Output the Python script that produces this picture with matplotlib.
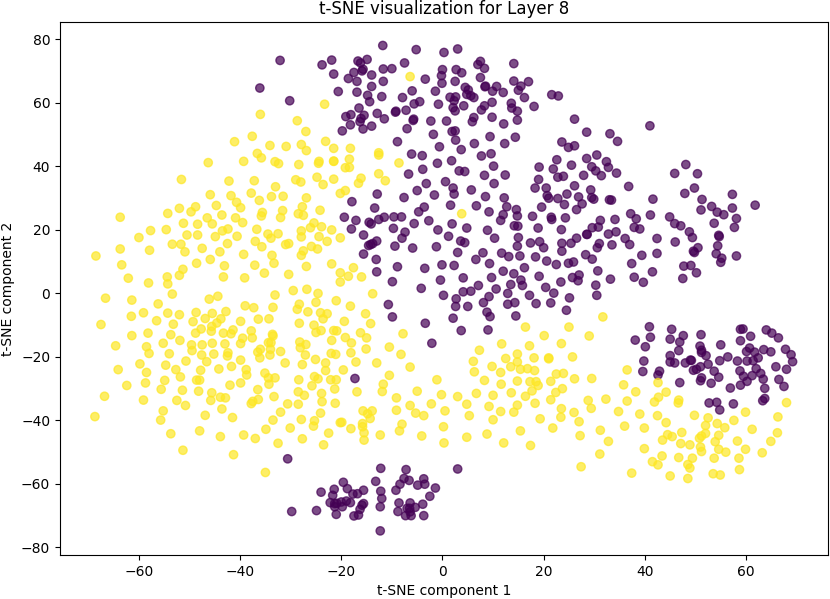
import matplotlib
matplotlib.use('Agg')
import matplotlib.pyplot as plt
import numpy as np

# t-SNE coordinates, one list per class
class_0_points = [
    (-36.1,64.6),(-32.1,73.3),(-30.2,60.6),(-30.6,-52.2),(-17.3,-26.9),
    (-11.8,78.0),(-5.2,76.7),(0.3,75.8),(3.0,76.9),(-21.9,73.4),(-23.8,71.9),(-16.7,73.1),(-16.2,72.5),(-14.9,73.6),
    (-7.5,72.5),(7.5,73.0),(7.0,72.0),(14.1,72.3),(-15.7,70.5),(-15.9,70.0),(-17.5,69.5),(-11.7,70.6),(-10.0,70.7),
    (0.0,70.4),(2.7,70.4),(3.8,69.4),(8.3,70.8),(-21.5,69.0),(-14.0,68.7),(-0.2,68.5),(-18.6,67.6),(-16.9,66.7),
    (-11.7,66.7),(-3.4,67.4),(2.5,66.7),(7.5,67.9),(14.1,66.8),(17.0,66.6),(-0.1,66.1),(-14.0,65.1),(8.4,65.0),
    (8.5,65.2),(10.7,65.1),(15.5,65.2),(15.0,63.9),(4.5,64.8),(-20.6,63.5),(-16.9,63.3),(-6.0,63.7),(-1.4,63.6),
    (5.1,64.0),(9.9,63.6),(12.0,63.2),(4.8,62.6),(5.6,62.2),(6.2,61.6),(-14.8,62.3),(-12.0,61.9),(-7.9,61.6),
    (1.5,61.7),(2.6,61.8),(16.2,61.6),(21.6,62.5),(22.9,62.1),(-14.4,60.3),(-4.5,60.3),(-5.6,59.6),(-0.8,59.5),
    (2.3,60.6),(9.8,60.1),(13.6,59.8),(4.2,59.0),(8.3,59.0),(18.1,58.8),(2.1,58.4),(-16.5,58.3),(13.7,58.3),
    (7.7,57.7),(2.5,57.4),(-9.2,57.3),(-9.3,57.0),(-7.2,57.6),(14.8,57.3),(-12.9,56.6),(-19.1,55.6),(-18.1,56.2),
    (-15.5,56.0),(-11.5,54.9),(-16.1,55.0),(-5.7,54.8),(-5.8,54.4),(-2.3,54.2),(0.8,54.2),(6.2,55.3),(5.9,54.0),
    (9.8,55.4),(14.8,54.5),(26.1,54.8),(-16.3,54.0),(-18.2,53.0),(-14.0,52.6),(12.1,53.3),(-19.8,51.1),(-15.7,51.7),
    (-7.0,51.8),(1.9,50.9),(2.5,51.1),(-1.8,50.0),(9.4,49.3),(14.4,49.1),(2.6,48.2),(-8.9,47.7),(6.3,47.1),
    (12.3,47.1),(23.6,47.6),(24.9,45.9),(26.1,46.4),(-0.6,46.1),(3.7,45.2),(-6.1,43.8),(-4.0,43.3),(7.7,43.2),
    (9.6,43.9),(22.6,42.0),(-1.0,40.9),(1.8,41.7),(25.5,40.3),(10.1,40.0),(19.1,39.7),(21.9,39.1),(-3.9,39.0),
    (3.3,38.5),(4.4,38.3),(-6.7,37.5),(8.3,37.1),(12.4,37.2),(22.8,36.5),(23.9,36.8),(19.0,35.8),(0.6,35.1),
    (-3.2,34.5),(10.2,34.5),(26.1,33.8),(2.1,33.1),(-5.0,32.3),(5.7,32.5),(18.3,33.1),(20.5,33.1),(-12.9,31.2),
    (-1.6,30.9),(2.3,31.2),(8.5,30.4),(20.7,30.7),(21.0,29.9),(12.2,30.0),(22.8,29.8),(24.6,31.2),(-7.6,30.1),
    (-17.9,28.8),(24.1,27.9),(26.9,30.3),(1.6,27.7),(6.7,27.5),(12.7,27.2),(19.6,27.1),(-3.6,27.1),(-13.4,26.8),
    (-4.7,25.6),(9.2,25.6),(14.6,26.3),(26.5,26.3),(-19.4,23.9),(-12.6,23.2),(-11.5,23.9),(-9.6,24.0),(-8.1,24.0),
    (-17.1,22.9),(-14.5,22.3),(-14.1,21.8),(-2.7,22.8),(12.0,24.7),(11.5,22.9),(14.8,24.3),(17.8,24.2),(21.5,23.9),
    (21.6,23.2),(24.3,23.7),(-5.6,21.9),(1.9,21.8),(-18.0,20.2),(-9.7,20.4),(-0.9,19.9),(4.8,20.5),(8.9,19.8),
    (14.2,21.2),(14.9,21.1),(18.9,20.5),(23.5,20.0),(-7.4,19.2),(-15.6,18.3),
    (-8.0,17.3),(-13.0,16.4),(-14.2,15.3),(-14.6,15.0),(-13.8,15.6),(-9.4,14.8),(-5.9,14.2),(-1.2,14.6),(1.2,17.9),
    (3.6,16.4),(4.4,15.9),(3.0,12.8),(10.3,17.3),(15.0,17.5),(14.8,14.8),(17.4,15.8),(19.2,16.2),(20.0,14.3),
    (23.6,15.7),(25.4,15.7),(26.5,17.3),(28.6,18.5),(23.6,13.2),(31.0,15.6),(30.6,14.3),(-15.6,12.3),(-13.1,10.6),
    (8.0,12.7),(6.6,10.6),(11.7,12.6),(13.1,11.5),(15.3,11.7),(18.4,11.4),(20.6,10.1),(22.5,9.0),(24.9,9.4),
    (25.9,9.8),(28.3,12.1),(29.6,10.7),(9.3,9.3),(-8.9,8.3),(-3.5,7.8),(-0.1,8.9),(2.3,8.7),(16.2,8.0),
    (12.0,6.9),(-13.0,6.7),(14.1,6.1),(30.7,7.0),(4.1,4.8),(9.7,4.9),(19.1,5.3),(25.7,4.9),(27.0,5.7),
    (26.8,3.9),(-9.9,3.6),(-0.4,4.1),(15.5,4.1),(23.4,3.5),(33.2,4.4),(13.5,2.7),(15.8,2.4),(7.1,2.4),
    (30.3,2.5),(-4.2,1.5),(10.6,1.3),(20.4,1.8),(4.1,0.4),(5.6,0.6),(12.9,-0.1),(22.0,0.0),(0.2,-0.7),
    (9.2,-1.1),(17.2,-0.7),(30.5,-0.7),(2.7,-1.8),(25.1,-1.5),(8.1,-3.0),(12.9,-3.5),(14.3,-3.0),(18.5,-3.3),
    (21.4,-3.1),(-10.7,-3.6),(2.6,-4.2),(5.0,-4.2),(24.5,-5.4),(8.8,-6.0),(9.4,-7.4),(14.5,-7.2),(-9.9,-7.5),
    (2.1,-7.9),(-3.4,-9.5),(3.7,-11.8),(9.0,-11.6),(-2.1,-15.8),
    (41.0,52.7),(28.5,50.7),(33.1,50.2),(34.6,47.8),(30.5,43.5),(28.5,42.4),(32.4,41.4),(29.5,39.8),(32.8,39.6),
    (30.3,38.5),(31.4,37.0),(34.4,37.8),(27.9,37.1),(45.9,37.7),(48.1,40.5),(50.4,37.6),(36.8,33.6),(49.8,33.1),
    (47.9,31.4),(57.3,31.1),(29.3,32.5),(61.8,27.7),(29.5,30.1),(29.9,29.6),(33.0,29.4),(33.4,29.3),(41.6,29.6),
    (51.3,29.5),(27.6,28.1),(53.2,27.3),(57.3,26.8),(51.1,26.2),(54.3,25.5),(37.2,25.0),(41.1,24.6),(55.6,24.7),
    (44.9,24.0),(38.3,23.4),(58.1,23.5),(31.2,22.9),(34.1,23.2),(45.9,21.9),(47.1,21.2),(53.7,22.0),(37.9,20.7),
    (39.0,20.2),(29.6,20.6),(30.8,20.8),(57.7,20.7),(34.3,19.3),(32.8,18.6),(28.5,18.5),(48.8,19.3),(49.4,17.5),
    (54.6,18.2),(54.7,17.8),(36.1,17.2),(42.4,17.2),(46.0,16.1),(33.5,15.2),(37.0,15.3),(50.5,14.3),(54.4,14.9),
    (49.6,13.2),(49.8,12.8),(42.4,12.5),(39.4,11.9),(54.1,12.4),(55.2,11.0),(58.1,11.7),(55.0,9.7),(37.4,9.3),
    (47.7,8.5),(49.1,8.7),(41.5,6.7),(50.2,6.4),(37.9,5.0),(47.5,4.6),(39.7,3.4),
    (40.9,-10.6),(45.3,-11.4),(58.9,-11.4),(59.4,-11.3),(64.0,-11.6),(65.1,-12.6),(66.4,-14.1),(38.1,-14.8),(41.1,-13.9),
    (45.0,-14.5),(47.6,-13.4),(51.1,-13.1),(60.9,-13.6),(58.9,-15.0),(46.9,-15.4),(40.1,-16.9),(55.0,-16.3),(50.9,-16.7),
    (46.7,-18.1),(51.2,-18.0),(51.2,-18.7),(60.7,-17.3),(60.1,-18.4),(63.5,-17.8),(64.9,-18.5),(67.8,-17.7),(61.7,-18.6),
    (68.9,-19.4),(52.1,-19.7),(56.4,-20.1),(45.0,-19.7),(62.4,-20.4),(39.8,-21.4),(45.0,-21.7),(45.9,-22.0),(48.0,-22.0),
    (49.0,-21.1),(49.2,-21.2),(54.8,-21.3),(58.3,-21.4),(60.2,-21.4),(61.4,-21.3),(69.2,-21.6),(52.5,-22.4),(51.0,-23.2),
    (65.9,-23.2),(62.0,-23.8),(68.0,-24.0),(39.6,-24.7),(42.9,-24.6),(42.6,-25.8),(49.6,-24.3),(50.2,-24.0),(53.7,-24.6),
    (58.8,-24.5),(62.9,-25.3),(51.2,-26.7),(51.0,-27.6),(54.6,-26.5),(59.5,-26.2),(61.2,-26.0),(60.2,-27.8),(63.4,-27.1),
    (66.5,-27.2),(46.9,-28.2),(53.1,-28.4),(58.9,-29.0),(67.5,-29.4),(56.9,-29.9),(63.7,-30.0),(63.7,-33.2),(63.3,-33.9),
    (52.7,-34.6),(54.2,-34.4),(57.5,-34.9),(54.8,-36.8),
    (-12.2,-55.2),(3.0,-55.4),(-7.2,-55.6),(-7.6,-58.4),(-6.6,-59.0),(-3.7,-58.5),(-13.2,-59.3),(-19.6,-59.6),(-8.4,-60.2),
    (-4.9,-60.5),(-3.5,-60.2),(-18.8,-61.6),(-1.4,-61.4),(-9.2,-62.1),(-15.6,-62.1),(-12.2,-62.4),(-21.4,-61.8),(-16.8,-63.2),
    (-17.7,-63.3),(-21.7,-63.7),(-2.5,-64.0),(-12.0,-64.7),(-18.2,-66.0),(-19.0,-65.5),(-20.0,-65.8),(-21.3,-66.3),(-20.9,-66.2),
    (-22.2,-66.0),(-15.6,-66.3),(-15.9,-66.8),(-8.6,-66.1),(-6.4,-66.1),(-3.9,-66.5),(-12.3,-67.3),(-21.3,-67.3),(-19.8,-67.3),
    (-5.4,-67.5),(-6.5,-67.8),(-7.0,-67.8),(-16.3,-68.1),(-8.8,-68.8),(-6.4,-68.9),(-21.0,-69.7),(-17.5,-70.2),(-16.6,-69.9),
    (-7.3,-70.1),(-6.2,-70.1),(-3.7,-70.1),(-12.3,-74.9),(-29.8,-68.8),(-24.9,-68.5),(-24.0,-62.7),
]

class_1_points = [
    (-23.3,59.5),(-36.0,56.3),(-28.7,54.3),(-27.0,50.9),(-37.6,49.4),(-41.1,47.7),(-23.1,47.8),(-34.1,46.5),(-30.9,46.2),
    (-27.9,46.8),(-26.9,44.9),(-21.5,45.6),(-36.6,44.0),(-35.8,42.6),(-39.3,41.5),(-46.3,41.1),(-33.1,41.4),(-32.4,40.8),
    (-28.4,40.5),(-24.4,41.5),(-24.5,40.9),(-21.5,41.6),(-21.5,41.5),(-51.6,35.8),(-42.2,35.3),(-37.2,35.4),(-29.0,35.7),
    (-28.0,35.0),(-24.8,36.5),(-21.5,35.9),(-23.6,34.2),(-33.0,33.5),(-45.9,31.0),(-41.8,30.7),(-37.8,31.5),(-33.8,30.4),
    (-31.5,30.5),(-26.9,30.0),(-20.2,31.4),(-36.2,29.2),(-40.7,28.6),(-44.7,27.6),(-39.9,26.9),(-48.8,27.2),(-52.0,26.7),
    (-49.7,25.6),(-54.3,25.1),(-27.7,27.2),(-31.6,26.0),(-24.2,26.1),(-35.6,25.4),(-35.8,24.3),(-28.5,25.0),(-27.5,24.5),
    (-32.0,23.8),(-43.6,24.6),(-40.9,23.7),(-46.5,23.7),(-63.7,23.9),(-39.5,22.2),(-51.2,22.0),(-48.4,21.7),(-45.5,21.8),
    (-25.4,22.1),(-26.1,20.6),(-23.9,20.9),(-57.7,19.7),(-54.6,20.0),(-42.4,20.2),(-43.5,19.6),(-36.7,20.1),(-27.9,19.6),
    (-21.9,19.9),(-34.5,18.6),(-32.5,18.7),(-33.9,17.3),(-27.9,17.7),(-24.4,17.8),(-20.2,17.4),(-60.0,17.5),(-50.5,18.3),
    (-48.4,18.3),(-44.9,17.8),(-40.6,17.9),(-37.0,16.3),(-22.8,16.3),(-53.4,15.4),(-51.7,15.4),(-42.5,15.6),(-35.7,14.6),
    (-31.0,15.3),(-30.4,15.6),(-25.9,14.7),(-24.7,13.9),(-63.7,13.9),(-57.9,13.5),(-47.5,14.1),(-50.9,13.0),(-44.0,13.0),
    (-27.5,13.3),(-39.3,12.2),(-33.7,11.9),(-27.9,11.9),(-68.5,11.7),(-45.9,10.6),(-63.4,8.9),(-48.6,9.4),(-43.1,8.6),
    (-37.1,8.8),(-33.3,9.4),(-26.9,8.4),(-21.9,9.2),(-51.3,7.5),(-52.0,5.6),(-54.4,5.1),(-62.1,4.7),(-58.1,3.2),
    (-54.3,2.9),(-43.3,5.1),(-39.1,4.8),(-35.2,6.3),(-30.4,5.9),(-20.2,6.4),(-20.2,3.5),
    (-29.5,0.8),(-26.8,1.2),(-24.6,-0.1),(-21.0,-2.4),(-53.4,-0.3),(-66.6,-1.6),(-61.4,-2.2),(-46.1,-1.9),(-44.4,-1.0),
    (-33.1,-0.6),(-56.2,-3.4),(-25.0,-2.9),(-28.3,-3.5),(-28.7,-5.1),(-39.0,-4.0),(-37.3,-4.6),(-33.5,-4.5),(-26.6,-5.9),
    (-24.1,-6.2),(-22.8,-6.5),(-23.6,-8.1),(-59.1,-6.2),(-54.3,-6.3),(-52.0,-6.8),(-48.7,-6.1),(-45.5,-6.4),(-42.8,-5.8),
    (-61.5,-7.3),(-46.9,-8.0),(-43.8,-8.1),(-36.4,-8.2),(-34.3,-8.1),(-56.5,-8.7),(-49.3,-9.0),(-44.6,-9.4),(-39.9,-8.9),
    (-28.3,-9.5),(-67.5,-9.9),(-53.2,-9.8),(-45.6,-10.5),(-25.4,-10.1),(-47.7,-11.3),(-41.4,-11.6),(-45.7,-12.0),(-37.8,-11.9),
    (-24.0,-11.8),(-25.0,-12.4),(-21.5,-11.8),(-20.9,-11.9),(-48.8,-12.6),(-43.3,-12.6),(-41.8,-12.8),(-61.4,-13.4),(-58.2,-12.6),
    (-53.7,-13.1),(-33.6,-13.0),(-33.5,-13.5),(-39.5,-14.2),(-37.6,-14.1),(-51.9,-14.9),(-21.9,-14.9),(-55.2,-15.8),(-49.6,-16.3),
    (-47.5,-16.3),(-45.5,-15.8),(-43.0,-16.0),(-39.9,-15.9),(-33.9,-15.6),(-34.4,-15.6),(-28.2,-15.4),(-27.0,-16.2),(-64.6,-16.6),
    (-58.5,-16.9),(-28.1,-17.2),(-49.5,-18.1),(-58.0,-19.0),(-36.0,-17.7),(-36.5,-18.6),(-34.0,-17.7),(-32.0,-18.4),(-54.0,-19.1),
    (-42.4,-18.8),(-45.2,-19.2),(-47.6,-19.5),(-42.5,-19.8),(-34.1,-19.5),(-27.1,-19.5),(-22.0,-19.0),(-21.1,-19.3),(-36.1,-20.4),
    (-50.7,-21.4),(-46.6,-21.6),(-39.9,-21.1),(-25.1,-20.9),(-59.8,-22.3),(-54.7,-22.7),(-31.1,-22.0),(-27.7,-22.5),(-23.1,-22.0),
    (-41.7,-23.1),(-64.1,-24.1),(-52.7,-24.1),(-44.2,-23.9),(-47.8,-24.3),(-38.8,-24.1),(-23.1,-24.4),(-58.5,-25.0),(-38.7,-25.8),
    (-35.1,-25.2),(-51.8,-26.4),(-34.4,-26.7),(-33.1,-26.7),(-25.3,-26.3),(-24.6,-27.0),(-48.6,-27.4),(-48.0,-27.4),(-54.9,-27.5),
    (-28.4,-27.3),(-22.1,-27.3),(-21.0,-27.3),(-58.7,-28.3),(-39.9,-28.3),(-34.3,-28.7),(-62.4,-29.1),(-42.0,-29.0),(-25.8,-29.2),
    (-55.6,-30.3),(-51.4,-30.6),(-48.2,-30.9),(-36.5,-30.4),(-21.3,-30.2),(-45.6,-31.4),(-28.5,-31.1),(-27.3,-32.2),(-23.9,-31.6),
    (-66.8,-32.5),(-43.9,-32.8),(-42.9,-33.0),(-33.3,-32.6),(-59.1,-33.7),(-52.5,-33.8),(-45.8,-33.8),(-36.4,-33.5),(-37.5,-34.1),
    (-37.8,-34.8),(-50.8,-35.4),(-30.6,-34.9),(-28.5,-35.0),(-23.8,-34.2),(-21.2,-34.7),(-43.6,-36.5),(-55.2,-37.1),(-32.0,-37.5),
    (-24.1,-37.8),(-68.7,-38.9),(-46.9,-38.5),(-41.5,-39.2),(-55.7,-40.0),(-33.5,-40.0),(-27.9,-39.8),(-25.3,-40.2),(-20.2,-40.8),
    (-25.5,-41.9),(-34.9,-42.9),(-30.1,-42.5),(-48.0,-43.4),(-53.7,-44.3),(-22.5,-44.1),(-43.9,-45.2),(-39.3,-44.7),(-37.0,-45.8),
    (-27.7,-45.9),(-32.5,-47.3),(-23.5,-47.8),(-51.3,-49.5),(-41.3,-50.9),(-35.0,-56.5),
    (-6.4,68.2),(-18.2,45.6),(-12.6,44.2),(-12.6,43.5),(-18.4,42.2),(-8.6,41.0),(-19.2,39.5),(-18.4,39.6),(-12.6,37.6),
    (-16.1,36.2),(-16.6,34.6),(-11.3,35.4),(-19.2,32.3),(3.8,25.0),
    (31.7,-7.5),(16.4,-10.7),(25.0,-10.7),(20.1,-13.4),(29.0,-13.5),(11.7,-16.0),(17.2,-16.6),(23.5,-15.9),(7.3,-18.0),
    (14.8,-19.2),(25.7,-20.1),(12.5,-20.6),(18.1,-20.4),(21.0,-20.4),(21.0,-20.7),
    (-17.6,8.0),(-18.6,5.3),(-16.0,5.1),(-13.8,-0.2),(-18.2,-4.1),(-15.2,-6.5),(-14.2,-9.6),(-19.4,-8.9),
    (-16.2,-12.5),(-15.0,-14.1),(-19.2,-14.0),(-7.8,-12.8),(-18.0,-15.7),(-15.1,-17.6),(-10.5,-17.0),(-18.1,-18.8),(-8.2,-19.3),
    (-17.1,-21.7),(-13.0,-22.0),(-6.4,-23.3),(-19.6,-24.2),(-10.5,-25.9),(-1.1,-27.3),(-11.7,-28.7),(-16.9,-31.1),(-11.9,-31.0),
    (-5.0,-30.9),(-9.1,-33.0),(-0.2,-32.0),(3.0,-32.6),(6.7,-31.6),(-6.4,-35.4),(-9.1,-36.9),(-2.2,-34.9),(4.8,-35.0),
    (-5.3,-37.8),(-3.7,-38.6),(0.5,-37.1),(5.3,-38.6),(-15.7,-37.1),(-14.8,-38.0),(-13.9,-37.1),(-14.3,-39.5),(-19.9,-40.7),
    (-15.8,-41.1),(-15.8,-42.1),(-18.1,-42.7),(-8.0,-41.3),(-8.5,-43.4),(0.2,-42.1),(-15.5,-44.0),(-12.3,-44.7),(-4.1,-45.0),
    (-15.5,-46.3),(0.3,-47.2),(4.8,-45.4),(8.8,-44.4),(12.1,-47.2),(17.4,-48.0),(15.4,-43.4),(21.8,-42.5),(27.2,-44.9),
    (27.0,-40.5),(31.2,-43.2),(31.1,-50.7),(27.4,-54.7),
    (6.1,-21.5),(9.8,-23.1),(13.5,-23.2),(14.8,-21.7),(15.4,-24.0),(16.8,-23.8),(18.2,-24.4),(6.3,-24.8),(11.5,-25.0),
    (22.5,-25.5),(23.9,-25.3),(26.1,-27.0),(29.5,-26.9),(8.3,-27.5),(11.6,-28.7),(14.8,-27.7),(17.3,-27.9),(18.5,-27.9),
    (18.9,-29.1),(21.4,-27.8),(13.6,-31.4),(17.7,-30.8),(23.7,-30.1),(22.4,-31.3),(10.0,-32.2),(16.4,-32.5),(21.4,-33.6),
    (14.8,-35.3),(18.3,-34.7),(28.8,-33.8),(9.2,-35.7),(29.4,-36.3),(11.5,-37.3),(14.1,-37.5),(23.5,-36.4),(26.0,-37.6),
    (23.4,-39.1),(10.0,-39.9),(19.3,-39.6),
    (36.5,-24.2),(42.6,-28.2),(35.8,-28.9),(38.2,-31.1),(44.2,-31.2),(42.7,-32.8),(41.9,-34.3),(32.3,-33.4),(36.5,-34.0),
    (46.7,-33.7),(46.6,-34.6),(34.8,-37.3),(68.0,-34.5),(59.9,-37.5),(39.0,-38.1),(42.5,-38.6),(49.8,-38.5),(52.5,-39.3),
    (66.3,-39.0),(57.6,-40.1),(44.2,-40.8),(54.3,-41.1),(52.0,-41.7),(36.0,-41.9),(39.9,-42.5),(55.8,-42.4),(61.2,-42.9),
    (66.2,-44.0),(47.3,-43.9),(52.0,-44.2),(51.2,-45.0),(54.6,-44.8),(44.5,-44.6),(45.4,-45.2),(50.8,-45.7),(43.5,-46.3),
    (32.8,-46.7),(53.9,-46.8),(58.3,-46.6),(64.9,-46.7),(47.1,-47.4),(48.9,-47.8),(51.0,-48.5),(39.9,-49.0),(54.6,-49.2),
    (59.9,-49.2),(51.2,-49.9),(56.0,-50.1),(63.2,-50.3),(43.4,-51.3),(46.7,-51.8),(49.4,-52.0),(53.7,-52.0),(58.6,-52.0),
    (41.5,-53.1),(42.6,-54.1),(48.5,-54.0),(48.9,-55.1),(58.7,-55.6),(37.4,-56.7),(53.5,-56.9),(54.9,-57.3),(45.0,-57.6),
    (48.5,-58.4),
]

points = np.array(class_0_points + class_1_points)
labels = np.array([0] * len(class_0_points) + [1] * len(class_1_points))

fig = plt.figure(figsize=(8.3, 5.99), dpi=100)
ax = fig.add_axes([60 / 830, 1 - 555 / 599, 768 / 830, 533 / 599])

ax.scatter(points[:, 0], points[:, 1], c=labels, cmap='viridis', alpha=0.7)

ax.set_xlim(-75.6, 76.2)
ax.set_ylim(-82.5, 85.4)
ax.set_title('t-SNE visualization for Layer 8')
ax.set_xlabel('t-SNE component 1')
ax.set_ylabel('t-SNE component 2')

fig.savefig('out.png', dpi=100)
